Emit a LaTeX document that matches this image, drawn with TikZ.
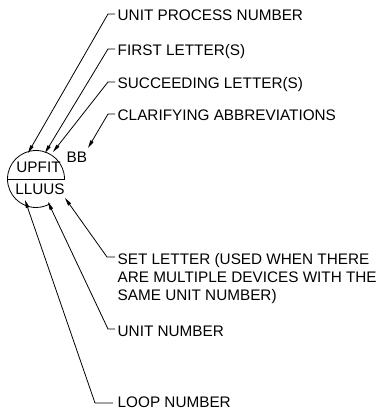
\documentclass[tikz,border=0pt]{standalone}
\usepackage{fontspec}
\setmainfont{Liberation Sans}
\usetikzlibrary{arrows.meta}

\begin{document}
\begin{tikzpicture}[x=1pt,y=1pt,
  leader/.style={-{Triangle[length=8pt,width=3.5pt]}, line width=0.8pt},
  lbl/.style={anchor=base west, inner sep=0pt, align=left, font=\fontsize{15.3}{18}\selectfont},
  tag/.style={anchor=base, inner sep=0pt, font=\fontsize{15.3}{18}\selectfont}]
\useasboundingbox (0,0) rectangle (382,414);

%Kreis mit Trennlinie (unten rechts offen wegen dem S)
\draw[line width=0.8pt] (64.5,235) arc [start angle=0, end angle=300, radius=28.5];
\draw[line width=0.8pt] (7.5,235) -- (64.5,235);

%Beschriftung im Kreis
\node[tag] (upfit) at (38.5,241) {UPFIT};
\node[tag] (lluus) at (40,219) {LLUUS};
\node[tag, anchor=base west] (bb) at (66.5,251) {BB};

%Pfeilspitzen
\coordinate (tipU) at (28,261);
\coordinate (tipF) at (45,261);
\coordinate (tipT) at (53,262);
\coordinate (tipB) at (88,266);
\coordinate (tipS) at (65,216);
\coordinate (tipN) at (48,212);
\coordinate (tipL) at (25,214);

%Texte rechts oben
\node[lbl] (upn) at (117.5,393) {UNIT PROCESS NUMBER};
\node[lbl] (first) at (117.5,358) {FIRST LETTER(S)};
\node[lbl] (succ) at (117.5,325) {SUCCEEDING LETTER(S)};
\node[lbl] (clar) at (117.5,293) {CLARIFYING ABBREVIATIONS};

%Texte rechts unten (base = letzte Zeile)
\node[lbl] (set) at (117.5,113) {SET LETTER (USED WHEN THERE\\ARE MULTIPLE DEVICES WITH THE\\SAME UNIT NUMBER)};
\node[lbl] (unit) at (117.5,77) {UNIT NUMBER};
\node[lbl] (loop) at (117.5,6) {LOOP NUMBER};

%Hinweislinien
\draw[leader] (upn.base west) ++(-2.5,7) -- ++(-7,0) -- (tipU);
\draw[leader] (first.base west) ++(-2.5,7) -- ++(-7,0) -- (tipF);
\draw[leader] (succ.base west) ++(-2.5,7) -- ++(-7,0) -- (tipT);
\draw[leader] (clar.base west) ++(-2.5,7) -- ++(-7,0) -- (tipB);
\draw[leader] (set.base west) ++(-2.5,44) -- ++(-8,0) -- (tipS);
\draw[leader] (unit.base west) ++(-2.5,8) -- ++(-7,0) -- (tipN);
\draw[leader] (loop.base west) ++(-4.5,5) -- ++(-18,0) -- (tipL);

\end{tikzpicture}
\end{document}
